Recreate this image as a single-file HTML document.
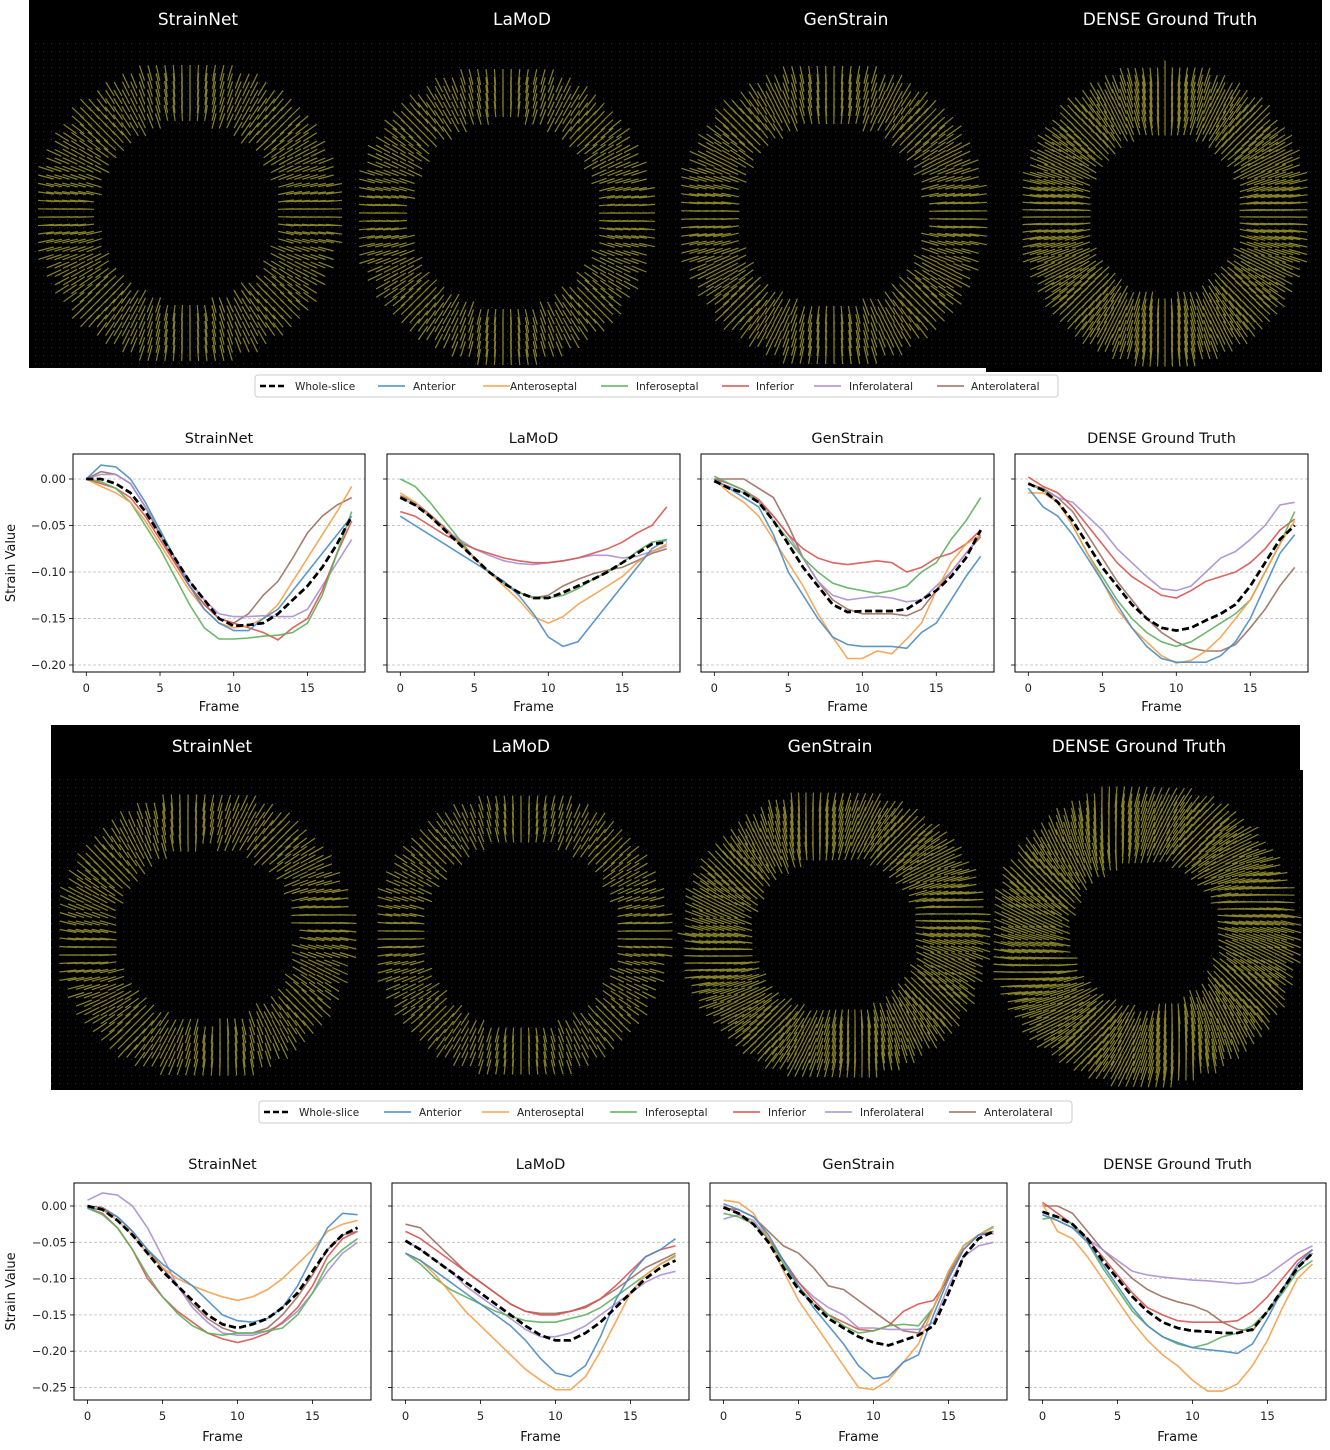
<!DOCTYPE html>
<html><head><meta charset="utf-8"><style>
html,body{margin:0;padding:0;background:#fff;}
svg{display:block;font-family:"DejaVu Sans","Liberation Sans",sans-serif;}
</style></head><body>
<svg id="fig" width="1330" height="1450" viewBox="0 0 1330 1450" xmlns="http://www.w3.org/2000/svg">
<defs>
<pattern id="dots" width="8" height="8" patternUnits="userSpaceOnUse"><rect x="3" y="3" width="1" height="1" fill="#5a5a30" opacity="0.6"/></pattern>
</defs>
<rect width="1330" height="1450" fill="#fff"/>
<g id="fields"></g>
<g id="legends"></g>
<g id="charts"></g>
</svg>
<script>
const frames = [0,1,2,3,4,5,6,7,8,9,10,11,12,13,14,15,16,17,18];
const seriesNames = ['Whole-slice','Anterior','Anteroseptal','Inferoseptal','Inferior','Inferolateral','Anterolateral'];
const yTicksRow1 = [0, -0.05, -0.10, -0.15, -0.20];
const yTickLabelsRow1 = ['0.00','−0.05','−0.10','−0.15','−0.20'];
const yTicksRow2 = [0, -0.05, -0.10, -0.15, -0.20, -0.25];
const yTickLabelsRow2 = ['0.00','−0.05','−0.10','−0.15','−0.20','−0.25'];
const xTicks = [0,5,10,15];

// Row 1 StrainNet
const r1sn_whole=[0,0,-0.005,-0.015,-0.035,-0.06,-0.085,-0.11,-0.13,-0.15,-0.158,-0.157,-0.155,-0.145,-0.13,-0.115,-0.095,-0.07,-0.04];
const r1sn_ant=[0,0.015,0.013,0,-0.025,-0.055,-0.085,-0.115,-0.14,-0.155,-0.163,-0.163,-0.15,-0.14,-0.12,-0.1,-0.08,-0.06,-0.04];
const r1sn_as=[0,-0.008,-0.015,-0.025,-0.045,-0.07,-0.095,-0.12,-0.14,-0.155,-0.16,-0.158,-0.15,-0.135,-0.11,-0.085,-0.06,-0.035,-0.008];
const r1sn_is=[0,-0.003,-0.01,-0.025,-0.05,-0.075,-0.105,-0.135,-0.16,-0.172,-0.172,-0.171,-0.169,-0.168,-0.165,-0.155,-0.125,-0.08,-0.035];
const r1sn_inf=[0,-0.005,-0.01,-0.02,-0.04,-0.065,-0.09,-0.115,-0.135,-0.15,-0.155,-0.16,-0.165,-0.173,-0.16,-0.15,-0.12,-0.08,-0.045];
const r1sn_il=[0,0.005,0.005,-0.005,-0.03,-0.055,-0.085,-0.11,-0.13,-0.145,-0.148,-0.148,-0.147,-0.148,-0.148,-0.14,-0.115,-0.09,-0.065];
const r1sn_al=[0,0.008,0.005,-0.005,-0.03,-0.06,-0.09,-0.115,-0.135,-0.15,-0.155,-0.145,-0.125,-0.11,-0.085,-0.058,-0.04,-0.028,-0.02];
// Row 1 LaMoD
const r1lm_whole=[-0.02,-0.028,-0.04,-0.055,-0.07,-0.085,-0.1,-0.112,-0.122,-0.128,-0.128,-0.122,-0.115,-0.108,-0.1,-0.09,-0.08,-0.07,-0.068];
const r1lm_ant=[-0.04,-0.05,-0.06,-0.07,-0.08,-0.09,-0.1,-0.11,-0.125,-0.145,-0.17,-0.18,-0.175,-0.155,-0.135,-0.115,-0.095,-0.075,-0.065];
const r1lm_as=[-0.015,-0.025,-0.04,-0.055,-0.07,-0.085,-0.1,-0.115,-0.13,-0.148,-0.155,-0.148,-0.135,-0.125,-0.115,-0.105,-0.09,-0.078,-0.07];
const r1lm_is=[0,-0.008,-0.025,-0.045,-0.065,-0.085,-0.1,-0.112,-0.122,-0.127,-0.128,-0.125,-0.118,-0.108,-0.1,-0.09,-0.078,-0.068,-0.065];
const r1lm_inf=[-0.035,-0.04,-0.05,-0.06,-0.068,-0.075,-0.08,-0.085,-0.088,-0.09,-0.09,-0.088,-0.085,-0.08,-0.075,-0.068,-0.058,-0.05,-0.03];
const r1lm_il=[-0.02,-0.028,-0.04,-0.055,-0.065,-0.075,-0.082,-0.088,-0.091,-0.092,-0.09,-0.088,-0.085,-0.082,-0.082,-0.085,-0.083,-0.078,-0.072];
const r1lm_al=[-0.018,-0.025,-0.038,-0.052,-0.068,-0.085,-0.1,-0.112,-0.122,-0.128,-0.125,-0.115,-0.108,-0.102,-0.098,-0.095,-0.088,-0.08,-0.075];
// Row 1 GenStrain
const r1gs_whole=[-0.002,-0.01,-0.015,-0.025,-0.045,-0.07,-0.095,-0.115,-0.135,-0.143,-0.142,-0.142,-0.142,-0.14,-0.13,-0.12,-0.105,-0.085,-0.055];
const r1gs_ant=[0,-0.01,-0.02,-0.03,-0.06,-0.1,-0.125,-0.15,-0.17,-0.178,-0.18,-0.18,-0.18,-0.182,-0.165,-0.155,-0.13,-0.105,-0.083];
const r1gs_as=[0,-0.015,-0.025,-0.04,-0.065,-0.09,-0.115,-0.145,-0.17,-0.193,-0.193,-0.185,-0.188,-0.172,-0.155,-0.12,-0.09,-0.07,-0.06];
const r1gs_is=[0.003,-0.005,-0.012,-0.025,-0.045,-0.065,-0.085,-0.1,-0.112,-0.117,-0.12,-0.123,-0.12,-0.115,-0.1,-0.09,-0.065,-0.045,-0.02];
const r1gs_inf=[0,-0.005,-0.012,-0.022,-0.04,-0.06,-0.075,-0.085,-0.09,-0.092,-0.09,-0.088,-0.09,-0.1,-0.095,-0.085,-0.08,-0.07,-0.055];
const r1gs_il=[-0.003,-0.008,-0.015,-0.025,-0.04,-0.06,-0.085,-0.11,-0.125,-0.13,-0.128,-0.126,-0.128,-0.132,-0.13,-0.115,-0.1,-0.08,-0.06];
const r1gs_al=[0,0,0,-0.01,-0.02,-0.05,-0.085,-0.11,-0.13,-0.14,-0.145,-0.145,-0.145,-0.147,-0.14,-0.12,-0.1,-0.08,-0.062];
// Row 1 DENSE
const r1dn_whole=[-0.005,-0.012,-0.025,-0.045,-0.07,-0.095,-0.115,-0.135,-0.15,-0.16,-0.163,-0.16,-0.152,-0.145,-0.135,-0.115,-0.09,-0.065,-0.05];
const r1dn_ant=[-0.01,-0.03,-0.04,-0.06,-0.085,-0.11,-0.135,-0.16,-0.18,-0.193,-0.197,-0.197,-0.197,-0.19,-0.175,-0.15,-0.115,-0.08,-0.06];
const r1dn_as=[-0.015,-0.015,-0.025,-0.05,-0.08,-0.11,-0.14,-0.16,-0.175,-0.19,-0.198,-0.195,-0.185,-0.17,-0.15,-0.13,-0.1,-0.07,-0.045];
const r1dn_is=[-0.005,-0.012,-0.025,-0.05,-0.08,-0.105,-0.13,-0.15,-0.165,-0.175,-0.18,-0.175,-0.165,-0.155,-0.145,-0.13,-0.1,-0.07,-0.035];
const r1dn_inf=[0.002,-0.008,-0.015,-0.03,-0.05,-0.07,-0.09,-0.105,-0.115,-0.125,-0.128,-0.12,-0.11,-0.105,-0.1,-0.09,-0.075,-0.055,-0.043];
const r1dn_il=[-0.005,-0.012,-0.02,-0.025,-0.04,-0.055,-0.075,-0.09,-0.105,-0.118,-0.12,-0.115,-0.1,-0.085,-0.078,-0.065,-0.05,-0.028,-0.025];
const r1dn_al=[-0.005,-0.01,-0.02,-0.035,-0.06,-0.085,-0.11,-0.13,-0.15,-0.165,-0.175,-0.182,-0.185,-0.185,-0.178,-0.16,-0.14,-0.115,-0.095];
// Row 2 StrainNet
const r2sn_whole=[0,-0.005,-0.02,-0.04,-0.065,-0.09,-0.11,-0.13,-0.15,-0.163,-0.168,-0.163,-0.155,-0.14,-0.12,-0.09,-0.06,-0.04,-0.03];
const r2sn_ant=[-0.003,-0.005,-0.015,-0.035,-0.06,-0.08,-0.095,-0.11,-0.13,-0.15,-0.158,-0.16,-0.155,-0.14,-0.11,-0.07,-0.03,-0.01,-0.012];
const r2sn_as=[-0.003,-0.005,-0.02,-0.04,-0.065,-0.085,-0.1,-0.11,-0.118,-0.125,-0.13,-0.125,-0.115,-0.1,-0.08,-0.06,-0.035,-0.025,-0.02];
const r2sn_is=[-0.003,-0.012,-0.03,-0.06,-0.095,-0.125,-0.148,-0.165,-0.175,-0.178,-0.175,-0.175,-0.172,-0.168,-0.15,-0.12,-0.08,-0.06,-0.045];
const r2sn_inf=[-0.003,-0.01,-0.03,-0.06,-0.1,-0.125,-0.145,-0.16,-0.175,-0.183,-0.188,-0.183,-0.175,-0.16,-0.14,-0.11,-0.07,-0.045,-0.035];
const r2sn_il=[0.008,0.018,0.015,0,-0.03,-0.07,-0.11,-0.14,-0.16,-0.175,-0.178,-0.178,-0.172,-0.162,-0.145,-0.12,-0.09,-0.065,-0.05];
const r2sn_al=[0,-0.002,-0.015,-0.035,-0.06,-0.085,-0.11,-0.135,-0.155,-0.168,-0.175,-0.175,-0.168,-0.15,-0.125,-0.095,-0.06,-0.04,-0.035];
// Row 2 LaMoD
const r2lm_whole=[-0.048,-0.06,-0.075,-0.09,-0.105,-0.12,-0.135,-0.15,-0.165,-0.178,-0.185,-0.185,-0.175,-0.16,-0.14,-0.12,-0.1,-0.085,-0.075];
const r2lm_ant=[-0.065,-0.075,-0.09,-0.105,-0.12,-0.135,-0.15,-0.165,-0.185,-0.21,-0.23,-0.235,-0.22,-0.18,-0.13,-0.095,-0.07,-0.06,-0.045];
const r2lm_as=[-0.065,-0.075,-0.095,-0.12,-0.145,-0.165,-0.185,-0.205,-0.225,-0.24,-0.253,-0.253,-0.235,-0.2,-0.16,-0.12,-0.095,-0.08,-0.07];
const r2lm_is=[-0.065,-0.08,-0.1,-0.115,-0.125,-0.135,-0.145,-0.152,-0.158,-0.16,-0.16,-0.155,-0.15,-0.14,-0.125,-0.11,-0.095,-0.08,-0.068];
const r2lm_inf=[-0.035,-0.045,-0.06,-0.075,-0.09,-0.105,-0.12,-0.135,-0.145,-0.15,-0.15,-0.145,-0.14,-0.128,-0.11,-0.09,-0.07,-0.06,-0.055];
const r2lm_il=[-0.048,-0.06,-0.075,-0.09,-0.11,-0.125,-0.14,-0.155,-0.17,-0.18,-0.18,-0.175,-0.165,-0.15,-0.135,-0.12,-0.105,-0.095,-0.09];
const r2lm_al=[-0.025,-0.03,-0.05,-0.07,-0.09,-0.105,-0.12,-0.135,-0.145,-0.148,-0.148,-0.145,-0.138,-0.128,-0.115,-0.1,-0.085,-0.075,-0.065];
// Row 2 GenStrain
const r2gs_whole=[-0.002,-0.01,-0.025,-0.05,-0.085,-0.115,-0.135,-0.155,-0.168,-0.18,-0.188,-0.192,-0.185,-0.178,-0.165,-0.12,-0.07,-0.045,-0.035];
const r2gs_ant=[0.003,-0.005,-0.015,-0.04,-0.075,-0.11,-0.14,-0.165,-0.19,-0.22,-0.238,-0.235,-0.215,-0.205,-0.15,-0.1,-0.06,-0.04,-0.035];
const r2gs_as=[0.008,0.005,-0.01,-0.045,-0.09,-0.13,-0.16,-0.19,-0.22,-0.25,-0.253,-0.24,-0.215,-0.19,-0.14,-0.09,-0.055,-0.04,-0.03];
const r2gs_is=[-0.01,-0.015,-0.025,-0.045,-0.08,-0.11,-0.135,-0.15,-0.165,-0.175,-0.172,-0.165,-0.163,-0.165,-0.14,-0.09,-0.055,-0.04,-0.028];
const r2gs_inf=[0,-0.01,-0.025,-0.045,-0.075,-0.105,-0.13,-0.15,-0.16,-0.17,-0.172,-0.165,-0.145,-0.135,-0.13,-0.1,-0.06,-0.04,-0.038];
const r2gs_il=[-0.018,-0.012,-0.02,-0.045,-0.075,-0.105,-0.125,-0.14,-0.15,-0.168,-0.168,-0.17,-0.17,-0.17,-0.16,-0.11,-0.07,-0.055,-0.05];
const r2gs_al=[-0.003,-0.005,-0.015,-0.035,-0.055,-0.065,-0.085,-0.11,-0.115,-0.13,-0.145,-0.16,-0.172,-0.175,-0.14,-0.095,-0.055,-0.04,-0.035];
// Row 2 DENSE
const r2dn_whole=[-0.008,-0.015,-0.025,-0.045,-0.075,-0.1,-0.125,-0.145,-0.16,-0.168,-0.172,-0.173,-0.175,-0.175,-0.17,-0.145,-0.115,-0.085,-0.065];
const r2dn_ant=[-0.012,-0.02,-0.03,-0.05,-0.08,-0.11,-0.14,-0.165,-0.18,-0.188,-0.195,-0.198,-0.2,-0.203,-0.19,-0.155,-0.115,-0.08,-0.06];
const r2dn_as=[0.003,-0.035,-0.045,-0.07,-0.1,-0.13,-0.16,-0.185,-0.205,-0.22,-0.24,-0.255,-0.255,-0.245,-0.22,-0.185,-0.14,-0.1,-0.08];
const r2dn_is=[-0.018,-0.015,-0.025,-0.05,-0.085,-0.115,-0.145,-0.165,-0.18,-0.19,-0.195,-0.19,-0.18,-0.175,-0.165,-0.145,-0.12,-0.09,-0.075];
const r2dn_inf=[0.005,-0.01,-0.025,-0.045,-0.07,-0.095,-0.12,-0.14,-0.15,-0.158,-0.16,-0.16,-0.16,-0.158,-0.145,-0.125,-0.1,-0.075,-0.06];
const r2dn_il=[-0.012,-0.02,-0.03,-0.045,-0.06,-0.075,-0.09,-0.095,-0.098,-0.1,-0.102,-0.103,-0.105,-0.107,-0.105,-0.095,-0.08,-0.065,-0.055];
const r2dn_al=[0,0,-0.01,-0.035,-0.06,-0.08,-0.1,-0.115,-0.125,-0.132,-0.137,-0.145,-0.16,-0.17,-0.172,-0.145,-0.115,-0.085,-0.065];

const NS='http://www.w3.org/2000/svg';
const colors=['#000','#4a8cc4','#f5a04a','#5cb05c','#d9534f','#a88fd0','#9c6e5e'];
function mk(tag, attrs, parent){const e=document.createElementNS(NS,tag);for(const k in attrs)e.setAttribute(k,attrs[k]);if(parent)parent.appendChild(e);return e;}

// ---------- vector field panels ----------
const fields=document.getElementById('fields');
function panelBg(x,y,w,h,name){
  const r=mk('rect',{x:x,y:y,width:w,height:h,fill:'#000'},fields);
  
  
}
panelBg(29,0,1293,368,'top-field-panel');
panelBg(986,0,336,372,'top-dense-field-panel');
mk('rect',{x:29,y:40,width:1293,height:328,fill:'url(#dots)'},fields);
panelBg(51,725,1249,45,'bottom-field-title-strip');
panelBg(51,770,1252,320,'bottom-field-panel');
mk('rect',{x:51,y:775,width:1252,height:315,fill:'url(#dots)'},fields);
function fieldTitle(x,y,t){const e=mk('text',{x:x,y:y,'text-anchor':'middle','font-size':'17',fill:'#fff'},fields);e.textContent=t;
  
  }
[['StrainNet',198],['LaMoD',522],['GenStrain',846],['DENSE Ground Truth',1170]].forEach(a=>fieldTitle(a[1],25,a[0]));
[['StrainNet',212],['LaMoD',521],['GenStrain',830],['DENSE Ground Truth',1139]].forEach(a=>fieldTitle(a[1],752,a[0]));
function ring(cx,cy,rx,ry,rin,step,len,twist,name){
  const g=mk('g',{stroke:'#b4ad36','stroke-width':'1.2','stroke-opacity':'0.75'},fields);
  
  
  let d='';
  for(let y=cy-ry;y<=cy+ry;y+=step){
    for(let x=cx-rx;x<=cx+rx;x+=step){
      const dx=(x-cx)/rx, dy=(y-cy)/ry, r=Math.sqrt(dx*dx+dy*dy);
      if(r>1||r<rin)continue;
      const a=Math.atan2(dy,dx)+twist;
      const ux=Math.cos(a)*len/2, uy=Math.sin(a)*len/2;
      d+='M'+(x-ux).toFixed(1)+' '+(y-uy).toFixed(1)+'L'+(x+ux).toFixed(1)+' '+(y+uy).toFixed(1);
    }
  }
  mk('path',{d:d,fill:'none'},g);
}
ring(188,213,150,148,0.64,8,16,0,'strainnet-field-1');
ring(505,215,146,146,0.68,8,16,0,'lamod-field-1');
ring(832,215,150,148,0.66,8,18,0,'genstrain-field-1');
ring(1165,215,140,145,0.6,7,19,0,'dense-field-1');
ring(205,935,145,140,0.66,8,17,0.15,'strainnet-field-2');
ring(522,935,145,140,0.7,8,15,0,'lamod-field-2');
ring(835,935,148,140,0.6,7,19,0.2,'genstrain-field-2');
ring(1145,935,148,145,0.55,7,21,0.3,'dense-field-2');

// ---------- legends ----------
const legends=document.getElementById('legends');
function legend(x,y,w,lineX,textX,name){
  const g=mk('g',{},legends);
  
  
  mk('rect',{x:x,y:y,width:w,height:22,rx:3,fill:'#fff',stroke:'#ccc'},g);
  seriesNames.forEach((s,i)=>{
    const ge=mk('g',{},g);
    
    
    mk('line',{x1:lineX[i],x2:lineX[i]+27,y1:y+11,y2:y+11,stroke:colors[i],'stroke-width':i===0?2.5:1.5,'stroke-dasharray':i===0?'6,3':'none'},ge);
    const t=mk('text',{x:textX[i],y:y+15,'font-size':'10.5',fill:'#222'},ge);t.textContent=s;
  });
}
legend(255,375,803,[260,378,483,601,722,814,937],[295,413,510,636,756,849,971],'legend-top');
legend(259,1101,813,[264,384,482,610,733,825,949],[299,419,517,645,768,860,984],'legend-bottom');

// ---------- charts ----------
const charts=document.getElementById('charts');
const chartDefs=[
 {title:'StrainNet',left:73,right:365,top:454,bottom:672,row:1,s:[r1sn_whole,r1sn_ant,r1sn_as,r1sn_is,r1sn_inf,r1sn_il,r1sn_al]},
 {title:'LaMoD',left:387,right:680,top:454,bottom:672,row:1,s:[r1lm_whole,r1lm_ant,r1lm_as,r1lm_is,r1lm_inf,r1lm_il,r1lm_al]},
 {title:'GenStrain',left:701,right:994,top:454,bottom:672,row:1,s:[r1gs_whole,r1gs_ant,r1gs_as,r1gs_is,r1gs_inf,r1gs_il,r1gs_al]},
 {title:'DENSE Ground Truth',left:1015,right:1308,top:454,bottom:672,row:1,s:[r1dn_whole,r1dn_ant,r1dn_as,r1dn_is,r1dn_inf,r1dn_il,r1dn_al]},
 {title:'StrainNet',left:74,right:371,top:1183,bottom:1400,row:2,s:[r2sn_whole,r2sn_ant,r2sn_as,r2sn_is,r2sn_inf,r2sn_il,r2sn_al]},
 {title:'LaMoD',left:392,right:689,top:1183,bottom:1400,row:2,s:[r2lm_whole,r2lm_ant,r2lm_as,r2lm_is,r2lm_inf,r2lm_il,r2lm_al]},
 {title:'GenStrain',left:710,right:1007,top:1183,bottom:1400,row:2,s:[r2gs_whole,r2gs_ant,r2gs_as,r2gs_is,r2gs_inf,r2gs_il,r2gs_al]},
 {title:'DENSE Ground Truth',left:1029,right:1326,top:1183,bottom:1400,row:2,s:[r2dn_whole,r2dn_ant,r2dn_as,r2dn_is,r2dn_inf,r2dn_il,r2dn_al]}
];
chartDefs.forEach((c,ci)=>{
  const g=mk('g',{},charts);
  
  
  const w=c.right-c.left, dx=w/19.8, x0=c.left+0.9*dx;
  const xs=f=>x0+f*dx;
  const y0=c.row===1?479:1206, py=c.row===1?46.5:36.3;
  const ys=v=>y0-v/0.05*py;
  const yt=c.row===1?yTicksRow1:yTicksRow2, ytl=c.row===1?yTickLabelsRow1:yTickLabelsRow2;
  const titleOff=c.row===1?11:14, xlabOff=c.row===1?39:41;
  yt.forEach((v,i)=>{
    const gl=mk('line',{x1:c.left,x2:c.right,y1:ys(v),y2:ys(v),stroke:'#bbb','stroke-width':0.8,'stroke-dasharray':'3,2'},g);
    
    
    mk('line',{x1:c.left-4,x2:c.left,y1:ys(v),y2:ys(v),stroke:'#000','stroke-width':0.8},g);
    if(ci%4===0){const t=mk('text',{x:c.left-7,y:ys(v)+4,'text-anchor':'end','font-size':'11.5',fill:'#222'},g);t.textContent=ytl[i];
      
      }
  });
  xTicks.forEach(f=>{
    mk('line',{x1:xs(f),x2:xs(f),y1:c.bottom,y2:c.bottom+4,stroke:'#000','stroke-width':0.8},g);
    const t=mk('text',{x:xs(f),y:c.bottom+20,'text-anchor':'middle','font-size':'11.5',fill:'#222'},g);t.textContent=f;
    
    
  });
  for(let i=6;i>=0;i--){
    const arr=c.s[i];
    const pts=frames.map((f,k)=>xs(f).toFixed(1)+','+ys(arr[k]).toFixed(1)).join(' ');
    const p=mk('polyline',{points:pts,fill:'none',stroke:colors[i],'stroke-width':i===0?2.6:1.6,'stroke-dasharray':i===0?'7,3.5':'none','stroke-opacity':i===0?1:0.9},g);
    
    
  }
  const ptsW=frames.map((f,k)=>xs(f).toFixed(1)+','+ys(c.s[0][k]).toFixed(1)).join(' ');
  mk('polyline',{points:ptsW,fill:'none',stroke:'#000','stroke-width':2.6,'stroke-dasharray':'7,3.5'},g);
  const box=mk('rect',{x:c.left,y:c.top,width:w,height:c.bottom-c.top,fill:'none',stroke:'#000','stroke-width':1},g);
  
  
  const tt=mk('text',{x:(c.left+c.right)/2,y:c.top-titleOff,'text-anchor':'middle','font-size':'14.5',fill:'#111'},g);tt.textContent=c.title;
  
  
  const xl=mk('text',{x:(c.left+c.right)/2,y:c.bottom+xlabOff,'text-anchor':'middle','font-size':'13',fill:'#111'},g);xl.textContent='Frame';
  
  
  if(ci%4===0){
    const cy=(c.top+c.bottom)/2;
    const yl=mk('text',{x:15,y:cy,'text-anchor':'middle','font-size':'13',fill:'#111',transform:'rotate(-90 15 '+cy+')'},g);yl.textContent='Strain Value';
    
    
  }
});
</script>
</body></html>
